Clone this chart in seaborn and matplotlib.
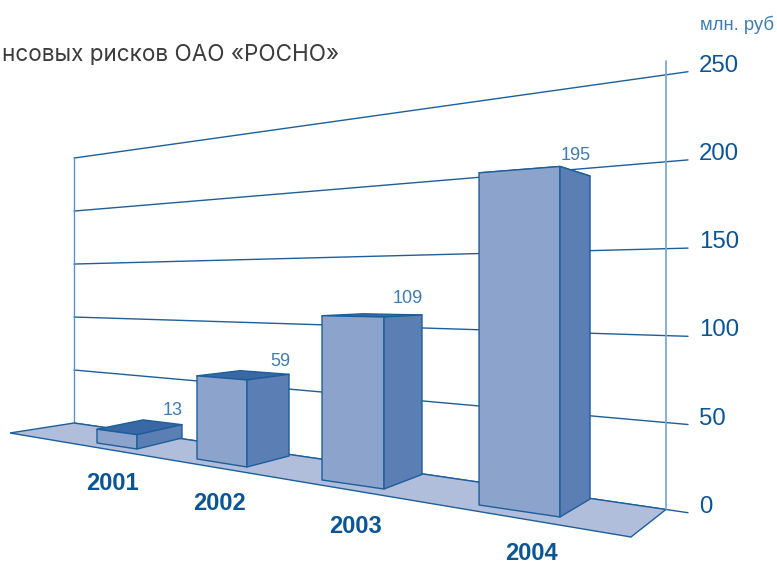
'''
Perspective bar chart of financial risks, 2001-2004
'''
import numpy as np
import pandas as pd
import matplotlib
matplotlib.use('Agg')
import matplotlib.pyplot as plt
import seaborn as sns

years = ['2001', '2002', '2003', '2004']
values = [13, 59, 109, 195]
ticks = [0, 50, 100, 150, 200, 250]
title = 'нсовых рисков ОАО «РОСНО»'
unit = 'млн. руб'

# the artwork is not quite to scale for the two small bars
art_stretch = [0.87, 1.05, 1, 1]

# bar footprints on the floor: front-left, nearest and back-right corner, (lateral, depth)
corner_fl = [(625.8, 6.452), (1152.0, 5.848), (1677.1, 5.208), (2207.4, 4.608)]
corner_near = [(850.9, 6.211), (1379.9, 5.587), (1910.4, 4.975), (2445.4, 4.367)]
corner_br = [(1213.3, 6.667), (1720.2, 5.952), (2262.7, 5.362), (2796.2, 4.739)]

# floor corners, same coordinates
wall_left = (548.1, 7.407)
wall_right = (3006.8, 4.515)
floor_tip = (68.97, 6.897)
floor_front = (2534.0, 4.016)

horizon = 288
height_k = 0.00785
tick_end = 688

line_color = '#1d5e9c'
text_color = '#0b5595'
label_color = '#3f7cb0'
front_color = '#8ca3cb'
side_color = '#5b7eb5'
top_color = '#3a68a5'
floor_color = '#b0bedb'


def project(point, value=0):
    lateral, depth = point
    return lateral / depth, horizon + 1000 / depth * (1 - height_k * value)


def face(ax, corners, value, color):
    xy = [project(c, value) if lift else project(c) for c, lift in corners]
    ax.fill(*zip(*xy), facecolor=color, edgecolor=line_color, lw=1.0, joinstyle='round', zorder=4)


sns.set_theme(style='white')
plt.rcParams['font.family'] = ['Liberation Sans', 'DejaVu Sans']

fig = plt.figure(figsize=(7.77, 5.64), dpi=100)
ax = fig.add_axes([0, 0, 1, 1])
ax.set_xlim(0, 777)
ax.set_ylim(564, 0)
ax.axis('off')

# grid lines along the back wall
rows = []
for tick in ticks:
    x0, y0 = project(wall_left, tick)
    x1, y1 = project(wall_right, tick)
    y_end = y1 + (y1 - y0) / (x1 - x0) * (tick_end - x1)
    rows += [(tick, x0, y0), (tick, tick_end, y_end)]
    ax.text(699, y_end - 6, str(tick), color=text_color, fontsize=17.3, va='center', ha='left')
grid = pd.DataFrame(rows, columns=['tick', 'x', 'y'])
sns.lineplot(data=grid, x='x', y='y', units='tick', estimator=None, color=line_color,
             lw=1.0, ax=ax, zorder=1)

x_left, y_top = project(wall_left, ticks[-1])
ax.plot([x_left, x_left], [y_top, project(wall_left)[1]], color='#5b93c2', lw=1.0, zorder=1)
x_right = project(wall_right)[0]
ax.plot([x_right, x_right], [61, project(wall_right)[1]], color='#7fa8cc', lw=1.3, zorder=3)

floor = [project(p) for p in (floor_tip, wall_left, wall_right, floor_front)]
ax.fill(*zip(*floor), facecolor=floor_color, edgecolor=line_color, lw=1.0, zorder=2)

for i, year in enumerate(years):
    fl, near, br = np.array(corner_fl[i]), np.array(corner_near[i]), np.array(corner_br[i])
    bl = fl + br - near
    height = values[i] * art_stretch[i]
    face(ax, [(fl, 1), (near, 1), (br, 1), (bl, 1)], height, top_color)
    face(ax, [(fl, 0), (near, 0), (near, 1), (fl, 1)], height, front_color)
    face(ax, [(near, 0), (br, 0), (br, 1), (near, 1)], height, side_color)

label_gap = [14, 13, 16, 21]
year_xy = [(112, 483.5), (219, 503.5), (355, 526.5), (531, 554)]
for i, year in enumerate(years):
    x, y = project(corner_br[i], values[i] * art_stretch[i])
    ax.text(x + 1, y - label_gap[i], str(values[i]), color=label_color, fontsize=13,
            ha='right', va='center', zorder=5)
    ax.text(*year_xy[i], year, color=text_color, fontsize=17, fontweight='bold',
            ha='center', va='center')

ax.text(339, 55, title, color='#3c3c3c', fontsize=16.2, ha='right', va='center',
        family=['Inter', 'Liberation Sans'], clip_on=False)
ax.text(774, 25, unit, color=label_color, fontsize=13.3, ha='right', va='center')

fig.savefig('out.png', dpi=100)
